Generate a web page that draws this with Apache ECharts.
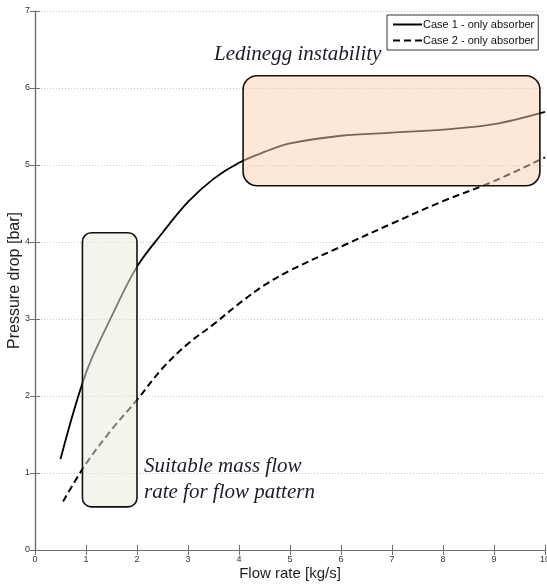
<!DOCTYPE html>
<html>
<head>
<meta charset="utf-8">
<script src="https://cdn.jsdelivr.net/npm/echarts@6/dist/echarts.min.js"></script>
<style>
  html, body { margin: 0; padding: 0; background: #fff; }
  #chart { width: 547px; height: 584px; }
</style>
</head>
<body>
<div id="chart"></div>
<script>
// Pressure drop against flow rate for the two absorber cases
const seriesNames = ['Case 1 - only absorber', 'Case 2 - only absorber'];
const flowCase1 = [0.5, 1, 1.5, 2, 2.5, 3, 3.5, 4, 4.5, 5, 6, 7, 8, 9, 10];
const dropCase1 = [1.18, 2.3, 3.03, 3.68, 4.12, 4.52, 4.82, 5.03, 5.17, 5.28, 5.38, 5.42, 5.46, 5.53, 5.69];
const flowCase2 = [0.55, 1, 1.5, 2, 2.5, 3, 3.5, 4, 4.5, 5, 6, 7, 8, 9, 10];
const dropCase2 = [0.63, 1.12, 1.56, 1.95, 2.36, 2.68, 2.93, 3.2, 3.44, 3.63, 3.94, 4.24, 4.53, 4.79, 5.1];

// Axis ranges
const xRange = [0, 10];
const yRange = [0, 7];

// Highlighted regions as [xMin, yMin, xMax, yMax] in data units
const suitableRegion = [0.93, 0.56, 2.0, 4.12];
const ledineggRegion = [4.08, 4.73, 9.9, 6.16];

// Annotation texts
const ledineggLabel = 'Ledinegg instability';
const suitableLabel = 'Suitable mass flow\nrate for flow pattern';

const regionStyles = [
  { fill: 'rgba(229,235,217,0.52)', r: 9 },
  { fill: 'rgba(251,208,175,0.49)', r: 14 }
];

const chart = echarts.init(document.getElementById('chart'), null, { renderer: 'canvas' });

const axisGrey = '#6e6e6e';
const tickFont = { fontSize: 9, color: '#333', fontFamily: 'Liberation Sans, Arial, sans-serif' };

function zipPoints(xs, ys) {
  return xs.map((x, i) => [x, ys[i]]);
}

function renderRegion(params, api) {
  const topLeft = api.coord([api.value(0), api.value(3)]);
  const bottomRight = api.coord([api.value(2), api.value(1)]);
  const st = regionStyles[params.dataIndex];
  return {
    type: 'rect',
    shape: {
      x: topLeft[0],
      y: topLeft[1],
      width: bottomRight[0] - topLeft[0],
      height: bottomRight[1] - topLeft[1],
      r: st.r
    },
    style: { fill: st.fill, stroke: '#111', lineWidth: 1.6 }
  };
}

const baseX = {
  type: 'value', min: xRange[0], max: xRange[1], interval: 1,
  axisLine: { show: true, lineStyle: { color: axisGrey, width: 1.2 } },
  axisTick: { show: true, inside: true, length: 5, lineStyle: { color: axisGrey } },
  splitLine: { show: false }
};
const baseY = {
  type: 'value', min: yRange[0], max: yRange[1], interval: 1,
  axisLine: { show: true, lineStyle: { color: axisGrey, width: 1.2 } },
  axisTick: { show: true, inside: true, length: 5, lineStyle: { color: axisGrey } }
};

chart.setOption({
  animation: false,
  backgroundColor: '#fff',
  grid: { left: 35, right: 2, top: 11, bottom: 34, containLabel: false, outerBoundsMode: 'none' },
  legend: {
    data: seriesNames,
    orient: 'vertical',
    left: 387,
    top: 15,
    padding: [4, 4, 4, 5],
    itemGap: 5,
    itemWidth: 29,
    itemHeight: 10,
    itemStyle: { opacity: 0 },
    backgroundColor: '#fff',
    borderColor: '#333',
    borderWidth: 1,
    borderRadius: 0,
    textStyle: { fontSize: 11, color: '#111', fontFamily: 'Liberation Sans, Arial, sans-serif', padding: [0, 0, 0, -4] }
  },
  xAxis: [
    Object.assign({}, baseX, {
      position: 'bottom',
      name: 'Flow rate [kg/s]',
      nameLocation: 'middle',
      nameGap: 16,
      nameMoveOverlap: false,
      nameTextStyle: { fontSize: 15, color: '#222', fontFamily: 'Liberation Sans, Arial, sans-serif' },
      axisLabel: Object.assign({ margin: 5 }, tickFont)
    }),
    Object.assign({}, baseX, { position: 'top', axisLabel: { show: false } })
  ],
  yAxis: [
    Object.assign({}, baseY, {
      position: 'left',
      name: 'Pressure drop [bar]',
      nameLocation: 'middle',
      nameGap: 12,
      nameMoveOverlap: false,
      nameTextStyle: { fontSize: 16, color: '#222', fontFamily: 'Liberation Sans, Arial, sans-serif' },
      axisLabel: Object.assign({ margin: 5 }, tickFont),
      splitLine: { show: true, lineStyle: { color: '#c8c8c8', type: [1, 2], width: 1 } }
    }),
    Object.assign({}, baseY, { position: 'right', axisLabel: { show: false }, splitLine: { show: false } })
  ],
  series: [
    {
      name: seriesNames[0],
      type: 'line',
      data: zipPoints(flowCase1, dropCase1),
      smooth: 0.35,
      symbol: 'none',
      lineStyle: { color: '#000', width: 1.8, type: 'solid' },
      itemStyle: { color: '#000' },
      z: 2
    },
    {
      name: seriesNames[1],
      type: 'line',
      data: zipPoints(flowCase2, dropCase2),
      smooth: 0.35,
      symbol: 'none',
      lineStyle: { color: '#000', width: 2, type: [7, 4] },
      itemStyle: { color: '#000' },
      z: 2
    },
    {
      name: 'regions',
      type: 'custom',
      renderItem: renderRegion,
      encode: { x: [0, 2], y: [1, 3] },
      data: [suitableRegion, ledineggRegion],
      clip: false,
      silent: true,
      z: 5
    }
  ],
  graphic: [
    {
      type: 'text',
      left: 214,
      top: 44,
      z: 10,
      style: {
        text: ledineggLabel,
        font: 'italic 21px "Liberation Serif", "Times New Roman", serif',
        fill: '#1c1c28'
      }
    },
    {
      type: 'text',
      left: 144,
      top: 453,
      z: 10,
      style: {
        text: suitableLabel,
        font: 'italic 21px "Liberation Serif", "Times New Roman", serif',
        lineHeight: 26,
        fill: '#1c1c28'
      }
    }
  ]
});
</script>
</body>
</html>
